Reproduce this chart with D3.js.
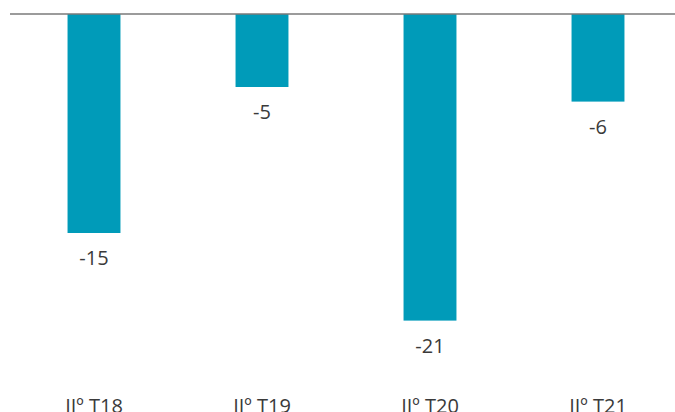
<!DOCTYPE html>
<html>
<head>
<meta charset="utf-8">
<script src="https://cdn.jsdelivr.net/npm/d3@7"></script>
<style>
  html, body { margin: 0; padding: 0; background: #fff; }
  svg { display: block; }
  .bar-label, .cat-label { font-family: "Open Sans", sans-serif; font-size: 20px; fill: #3a3a3a; }
</style>
</head>
<body>
<svg id="chart"></svg>
<script>
// Quarterly values
const categories = ['IIº T18', 'IIº T19', 'IIº T20', 'IIº T21'];
const values = [-15, -5, -21, -6];

const width = 675;
const height = 412;

const svg = d3.select('#chart').attr('width', width).attr('height', height);

const x = d3.scaleBand()
    .domain(categories)
    .range([10, 682])
    .paddingInner(0.685)
    .paddingOuter(0.3425);

const y = d3.scaleLinear()
    .domain([-25, 0])
    .range([379, 14]);

// bars
svg.append('g')
    .selectAll('rect')
    .data(values)
    .enter()
    .append('rect')
    .attr('x', (d, i) => x(categories[i]))
    .attr('y', y(0))
    .attr('width', x.bandwidth())
    .attr('height', d => y(d) - y(0))
    .attr('fill', '#009bb9');

// baseline
svg.append('line')
    .attr('x1', 10)
    .attr('x2', width)
    .attr('y1', y(0))
    .attr('y2', y(0))
    .attr('stroke', '#7a7a7a')
    .attr('stroke-width', 1.3);

// value labels under the bars
svg.append('g')
    .selectAll('text')
    .data(values)
    .enter()
    .append('text')
    .attr('class', 'bar-label')
    .attr('x', (d, i) => x(categories[i]) + x.bandwidth() / 2)
    .attr('y', d => y(d) + 32)
    .attr('text-anchor', 'middle')
    .text(d => d);

// category labels
svg.append('g')
    .selectAll('text')
    .data(categories)
    .enter()
    .append('text')
    .attr('class', 'cat-label')
    .attr('x', d => x(d) + x.bandwidth() / 2)
    .attr('y', 413)
    .attr('text-anchor', 'middle')
    .text(d => d);
</script>
</body>
</html>
